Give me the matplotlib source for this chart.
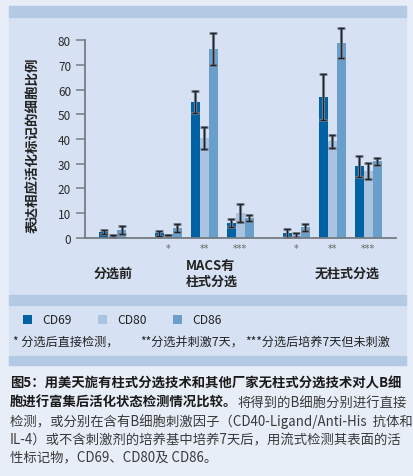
import numpy as np
import matplotlib
matplotlib.use("Agg")
import matplotlib.pyplot as plt
from matplotlib.patches import Rectangle

plt.rcParams['font.family'] = ['Noto Sans CJK SC', 'DejaVu Sans']

# -----------------------------
# Data
# -----------------------------
markers = ["CD69", "CD80", "CD86"]
conditions = ["", "*", "**", "***", "*", "**", "***"]
groups = ["分选前", "MACS有\n柱式分选", "无柱式分选"]

cd69 = [2.2, 1.8, 55.0, 6.0, 1.9, 57.0, 29.0]
cd69_err = [0.9, 1.0, 4.3, 1.5, 1.5, 9.5, 4.3]
cd80 = [0.6, 1.1, 40.5, 10.0, 1.0, 39.0, 27.0]
cd80_err = [0.4, 0.0, 4.5, 3.8, 0.9, 2.8, 3.3]
cd86 = [3.1, 4.1, 76.5, 8.0, 4.2, 79.0, 31.0]
cd86_err = [1.5, 1.6, 6.5, 1.3, 1.4, 6.1, 1.4]

values = [cd69, cd80, cd86]
errors = [cd69_err, cd80_err, cd86_err]
colors = ["#0062a3", "#a9c3e1", "#6a9fcb"]

footnote = ["* 分选后直接检测，", "**分选并刺激7天，", "***分选后培养7天但未刺激"]

# cluster centres (in bar widths)
pos = np.array([0, 6.2, 10.2, 14.2, 20.4, 24.4, 28.4])

W, H = 414, 477
fig = plt.figure(figsize=(W / 100, H / 100), dpi=100)
fig.patch.set_facecolor("#e8eef8")


def fx(x):
    return x / W


def fy(y):
    return 1 - y / H


# -----------------------------
# Background panel and bands
# -----------------------------
fig.patches.append(Rectangle((fx(9), fy(366)), fx(406) - fx(9), fy(7) - fy(366),
                             transform=fig.transFigure, color="#d6e2f3", zorder=-2))
for top, bot in [(7, 18), (296, 306), (357, 366)]:
    fig.patches.append(Rectangle((fx(9), fy(bot)), fx(406) - fx(9), fy(top) - fy(bot),
                                 transform=fig.transFigure, color="#b4c9e4", zorder=-1))

# -----------------------------
# Bar chart
# -----------------------------
ax = fig.add_axes([fx(85), fy(238.7), fx(396) - fx(85), fy(41.3) - fy(238.7)])
ax.set_zorder(2)
ax.set_facecolor("none")

bars = []
for i, (vals, errs, c) in enumerate(zip(values, errors, colors)):
    x = pos + (i - 1)
    b = ax.bar(x, vals, width=1.0, color=c, label=markers[i], zorder=2)
    bars.append(b)
    ax.errorbar(x, vals, yerr=errs, fmt="none", ecolor="#7d848d", elinewidth=2.2,
                capsize=2.6, capthick=2.0, zorder=3, clip_on=False)
    ax.errorbar(x, vals, yerr=errs, fmt="none", ecolor="#1b2430", elinewidth=0.9,
                capsize=2.4, capthick=1.0, zorder=4, clip_on=False)

ax.set_xlim(-3.06, 31.5)
ax.set_ylim(0, 80)
ax.set_yticks(range(0, 90, 10))
ax.set_xticks([])
for s in ["top", "right"]:
    ax.spines[s].set_visible(False)
for s in ["left", "bottom"]:
    ax.spines[s].set_color("#767b82")
    ax.spines[s].set_linewidth(1.3)
ax.spines["bottom"].set_zorder(5)
ax.tick_params(axis="y", length=6.5, width=1.1, color="#767b82", labelsize=8.5,
               labelcolor="#2a2a2a", pad=3.5)

for p, c in zip(pos, conditions):
    ax.text(p, -0.05, c, transform=ax.get_xaxis_transform(), ha="center", va="center",
            fontsize=7, color="#666666", family="DejaVu Sans")

fig.text(fx(33), fy(145), "表达相应活化标记的细胞比例", rotation=90, ha="center", va="center",
         fontsize=9.7, fontweight="bold", color="#222222")

# group labels
fig.text(fx(113), fy(274), groups[0], ha="center", va="center", fontsize=9.4,
         fontweight="bold", color="#222222")
fig.text(fx(212), fy(274), groups[1], ha="center", va="center", fontsize=9.4,
         fontweight="bold", color="#222222", linespacing=1.15, multialignment="left")
fig.text(fx(347), fy(274), groups[2], ha="center", va="center", fontsize=9.4,
         fontweight="bold", color="#222222")

# -----------------------------
# Legend and footnote
# -----------------------------
fig.legend(handles=bars, loc="center left", bbox_to_anchor=(fx(17), fy(321)), ncol=3,
           frameon=False, fontsize=8.7, handlelength=0.72, handleheight=0.72,
           handletextpad=0.85, columnspacing=2.2, labelcolor="#222222", borderpad=0)

for x0, seg in zip([13, 140, 245], footnote):
    fig.text(fx(x0), fy(342), seg, ha="left", va="center", fontsize=8.7, color="#222222")

# -----------------------------
# Caption
# -----------------------------
cap_size = 9.6
t1 = fig.text(fx(10), fy(384), "图5：用美天旎有柱式分选技术和其他厂家无柱式分选技术对人B细",
              ha="left", va="center", fontsize=cap_size, fontweight="bold", color="#1a1a1a")
t2 = fig.text(fx(10), fy(403), "胞进行富集后活化状态检测情况比较。",
              ha="left", va="center", fontsize=cap_size, fontweight="bold", color="#1a1a1a")
ax.annotate("将得到的B细胞分别进行直接", xy=(1, 0.5), xycoords=t2, ha="left", va="center",
            fontsize=cap_size, color="#3a3a3a", annotation_clip=False)
cap_lines = [
    "检测，或分别在含有B细胞刺激因子（CD40-Ligand/Anti-His  抗体和",
    "IL-4）或不含刺激剂的培养基中培养7天后，用流式检测其表面的活",
    "性标记物，CD69、CD80及 CD86。",
]
for y, line in zip([421.3, 440, 457.5], cap_lines):
    fig.text(fx(10), fy(y), line, ha="left", va="center", fontsize=cap_size, color="#3a3a3a")

fig.savefig("out.png", dpi=100, facecolor=fig.get_facecolor())
